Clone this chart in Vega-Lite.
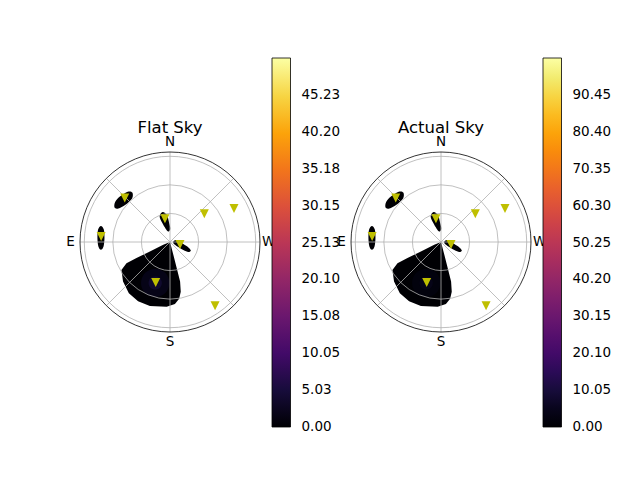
{
  "$schema": "https://vega.github.io/schema/vega-lite/v6.json",
  "background": "#fff",
  "padding": {"left": 66, "top": 58, "right": 5, "bottom": 5},
  "bounds": "flush",
  "spacing": 91,
  "datasets": {
    "blobs": [
      {"k": "apex", "b": "big", "v": 0, "i": 0, "x": 0, "y": 0},
      {"k": "apex", "b": "big", "v": 0, "i": 1, "x": 3.5, "y": -13.4},
      {"k": "apex", "b": "big", "v": 0, "i": 2, "x": 7.1, "y": -27.5},
      {"k": "apex", "b": "big", "v": 0, "i": 3, "x": 10.6, "y": -41.6},
      {"k": "apex", "b": "big", "v": 0, "i": 4, "x": 11.3, "y": -52.2},
      {"k": "apex", "b": "big", "v": 0, "i": 5, "x": 9.6, "y": -59.5},
      {"k": "apex", "b": "big", "v": 0, "i": 6, "x": 5.2, "y": -65.2},
      {"k": "apex", "b": "big", "v": 0, "i": 7, "x": -3.5, "y": -68},
      {"k": "apex", "b": "big", "v": 0, "i": 8, "x": -21.1, "y": -67.2},
      {"k": "apex", "b": "big", "v": 0, "i": 9, "x": -33.5, "y": -62.2},
      {"k": "apex", "b": "big", "v": 0, "i": 10, "x": -43.2, "y": -53.8},
      {"k": "apex", "b": "big", "v": 0, "i": 11, "x": -49.3, "y": -41.6},
      {"k": "apex", "b": "big", "v": 0, "i": 12, "x": -51, "y": -29.3},
      {"k": "apex", "b": "big", "v": 0, "i": 13, "x": -45.7, "y": -22.2},
      {"k": "apex", "b": "big", "v": 0, "i": 14, "x": -35.2, "y": -16.9},
      {"k": "apex", "b": "big", "v": 0, "i": 15, "x": -21.1, "y": -9.9},
      {"k": "apex", "b": "big", "v": 0, "i": 16, "x": -7.1, "y": -2.9},

      {"k": "oval", "b": "ne", "v": 0, "i": 0, "x": -44.4, "y": 52.8},
      {"k": "oval", "b": "ne", "v": 0, "i": 1, "x": -39.6, "y": 51.9},
      {"k": "oval", "b": "ne", "v": 0, "i": 2, "x": -39.8, "y": 45.8},
      {"k": "oval", "b": "ne", "v": 0, "i": 3, "x": -46.8, "y": 39.2},
      {"k": "oval", "b": "ne", "v": 0, "i": 4, "x": -54.2, "y": 35.2},
      {"k": "oval", "b": "ne", "v": 0, "i": 5, "x": -58.2, "y": 36.1},
      {"k": "oval", "b": "ne", "v": 0, "i": 6, "x": -57.6, "y": 42},
      {"k": "oval", "b": "ne", "v": 0, "i": 7, "x": -52.3, "y": 48},

      {"k": "oval", "b": "e", "v": 0, "i": 0, "x": -72.5, "y": 16.9},
      {"k": "oval", "b": "e", "v": 0, "i": 1, "x": -69.5, "y": 13},
      {"k": "oval", "b": "e", "v": 0, "i": 2, "x": -68.8, "y": 4.2},
      {"k": "oval", "b": "e", "v": 0, "i": 3, "x": -69.8, "y": -4.6},
      {"k": "oval", "b": "e", "v": 0, "i": 4, "x": -72.5, "y": -8.1},
      {"k": "oval", "b": "e", "v": 0, "i": 5, "x": -75.2, "y": -4.6},
      {"k": "oval", "b": "e", "v": 0, "i": 6, "x": -76.2, "y": 4.2},
      {"k": "oval", "b": "e", "v": 0, "i": 7, "x": -75.5, "y": 13},

      {"k": "oval", "b": "n", "v": 0, "i": 0, "x": -7.7, "y": 31.5},
      {"k": "oval", "b": "n", "v": 0, "i": 1, "x": -10.9, "y": 27},
      {"k": "oval", "b": "n", "v": 0, "i": 2, "x": -8.2, "y": 20.1},
      {"k": "oval", "b": "n", "v": 0, "i": 3, "x": -4.6, "y": 14},
      {"k": "oval", "b": "n", "v": 0, "i": 4, "x": -1.8, "y": 11},
      {"k": "oval", "b": "n", "v": 0, "i": 5, "x": 0.3, "y": 14},
      {"k": "oval", "b": "n", "v": 0, "i": 6, "x": -1.3, "y": 21.8},
      {"k": "oval", "b": "n", "v": 0, "i": 7, "x": -3.2, "y": 28.3},

      {"k": "oval", "b": "c", "v": 0, "i": 0, "x": 3.5, "y": 0.6},
      {"k": "oval", "b": "c", "v": 0, "i": 1, "x": 7.1, "y": 2.1},
      {"k": "oval", "b": "c", "v": 0, "i": 2, "x": 14, "y": -2.1},
      {"k": "oval", "b": "c", "v": 0, "i": 3, "x": 19.3, "y": -5.7},
      {"k": "oval", "b": "c", "v": 0, "i": 4, "x": 21.9, "y": -8.9},
      {"k": "oval", "b": "c", "v": 0, "i": 5, "x": 19.3, "y": -10.6},
      {"k": "oval", "b": "c", "v": 0, "i": 6, "x": 14, "y": -8.4},
      {"k": "oval", "b": "c", "v": 0, "i": 7, "x": 7.7, "y": -4.6},
      {"k": "oval", "b": "c", "v": 0, "i": 8, "x": 4.2, "y": -2.1},

      {"k": "glow", "b": "g1", "v": 2, "i": 0, "x": -0.5, "y": -43},
      {"k": "glow", "b": "g1", "v": 2, "i": 1, "x": -4.9, "y": -32.4},
      {"k": "glow", "b": "g1", "v": 2, "i": 2, "x": -15.5, "y": -28},
      {"k": "glow", "b": "g1", "v": 2, "i": 3, "x": -26.1, "y": -32.4},
      {"k": "glow", "b": "g1", "v": 2, "i": 4, "x": -30.5, "y": -43},
      {"k": "glow", "b": "g1", "v": 2, "i": 5, "x": -26.1, "y": -53.6},
      {"k": "glow", "b": "g1", "v": 2, "i": 6, "x": -15.5, "y": -58},
      {"k": "glow", "b": "g1", "v": 2, "i": 7, "x": -4.9, "y": -53.6},

      {"k": "glow", "b": "g2", "v": 4, "i": 0, "x": -8.5, "y": -43},
      {"k": "glow", "b": "g2", "v": 4, "i": 1, "x": -10.5, "y": -38},
      {"k": "glow", "b": "g2", "v": 4, "i": 2, "x": -15.5, "y": -36},
      {"k": "glow", "b": "g2", "v": 4, "i": 3, "x": -20.5, "y": -38},
      {"k": "glow", "b": "g2", "v": 4, "i": 4, "x": -22.5, "y": -43},
      {"k": "glow", "b": "g2", "v": 4, "i": 5, "x": -20.5, "y": -48},
      {"k": "glow", "b": "g2", "v": 4, "i": 6, "x": -15.5, "y": -50},
      {"k": "glow", "b": "g2", "v": 4, "i": 7, "x": -10.5, "y": -48}
    ],
    "spokes": [
      {"x": -94.5, "y": 0, "x2": 94.5, "y2": 0},
      {"x": 0, "y": -94.5, "x2": 0, "y2": 94.5},
      {"x": -66.82, "y": -66.82, "x2": 66.82, "y2": 66.82},
      {"x": -66.82, "y": 66.82, "x2": 66.82, "y2": -66.82}
    ],
    "rings": [
      {"r": 30, "x": 0, "y": 0},
      {"r": 60, "x": 0, "y": 0},
      {"r": 90, "x": 0, "y": 0},
      {"r": 94.5, "x": 0, "y": 0}
    ],
    "suns": [
      {"x": -47.5, "y": 46.2},
      {"x": -5.3, "y": 24.4},
      {"x": 36, "y": 29.7},
      {"x": 67.2, "y": 35.3},
      {"x": -72.3, "y": 5.9},
      {"x": 10.5, "y": -2.6},
      {"x": -15, "y": -42.4},
      {"x": 47.3, "y": -66.9}
    ],
    "dirs": [
      {"t": "N", "x": 0, "y": 104.5},
      {"t": "E", "x": -104.5, "y": 0},
      {"t": "S", "x": 0, "y": -104.5},
      {"t": "W", "x": 103.5, "y": 0}
    ]
  },
  "hconcat": [
    {
      "width": 180,
      "height": 180,
      "title": {"text": "Flat Sky", "frame": "group", "offset": -78},
      "encoding": {
        "x": {"field": "x", "type": "quantitative", "scale": {"domain": [-94.5, 94.5], "nice": false, "zero": false}, "axis": null},
        "y": {"field": "y", "type": "quantitative", "scale": {"domain": [-94.5, 94.5], "nice": false, "zero": false}, "axis": null}
      },
      "layer": [
        {
          "data": {"name": "blobs"},
          "transform": [{"filter": "datum.k == 'apex'"}],
          "mark": {"type": "line", "interpolate": "linear-closed", "strokeWidth": 0},
          "encoding": {
            "fill": {
              "field": "v", "type": "quantitative",
              "scale": {"domain": [0, 50.26], "scheme": "inferno"},
              "legend": {
                "orient": "none", "legendX": 192, "legendY": -94,
                "direction": "vertical", "title": null,
                "gradientLength": 369, "gradientThickness": 18.5,
                "labelOffset": 11,
                "values": [0, 5.03, 10.05, 15.08, 20.1, 25.13, 30.15, 35.18, 40.2, 45.23],
                "format": ".2f",
                "encode": {"labels": {"update": {"baseline": {"value": "middle"}}}}
              }
            },
            "order": {"field": "i"},
            "detail": {"field": "b"}
          }
        },
        {
          "data": {"name": "blobs"},
          "transform": [{"filter": "datum.k != 'apex'"}],
          "mark": {"type": "line", "interpolate": "cardinal-closed", "strokeWidth": 0},
          "encoding": {
            "fill": {"field": "v", "type": "quantitative"},
            "order": {"field": "i"},
            "detail": {"field": "b"}
          }
        },
        {
          "data": {"name": "spokes"},
          "mark": {"type": "rule", "color": "#b0b0b0", "strokeWidth": 0.8},
          "encoding": {"x2": {"field": "x2"}, "y2": {"field": "y2"}}
        },
        {
          "data": {"name": "rings"},
          "mark": {"type": "point", "shape": "circle", "filled": false, "opacity": 1, "strokeWidth": 0.8},
          "encoding": {
            "size": {"field": "r", "type": "quantitative", "scale": {"type": "pow", "exponent": 2, "domain": [0, 94.5], "range": [0, 32400]}, "legend": null},
            "stroke": {"condition": {"test": "datum.r > 91", "value": "#000000"}, "value": "#b0b0b0"}
          }
        },
        {
          "data": {"name": "suns"},
          "mark": {"type": "point", "shape": "M-1,-1L1,-1L0,1Z", "filled": true, "opacity": 1, "color": "#bfbf00", "size": 81}
        },
        {
          "data": {"name": "dirs"},
          "mark": {"type": "text", "align": "center", "baseline": "middle"},
          "encoding": {"text": {"field": "t"}}
        }
      ]
    },
    {
      "width": 180,
      "height": 180,
      "title": {"text": "Actual Sky", "frame": "group", "offset": -78},
      "encoding": {
        "x": {"field": "x", "type": "quantitative", "scale": {"domain": [-94.5, 94.5], "nice": false, "zero": false}, "axis": null},
        "y": {"field": "y", "type": "quantitative", "scale": {"domain": [-94.5, 94.5], "nice": false, "zero": false}, "axis": null}
      },
      "layer": [
        {
          "data": {"name": "blobs"},
          "transform": [{"filter": "datum.k == 'apex'"}],
          "mark": {"type": "line", "interpolate": "linear-closed", "strokeWidth": 0},
          "encoding": {
            "fill": {
              "field": "v", "type": "quantitative",
              "scale": {"domain": [0, 100.5], "scheme": "inferno"},
              "legend": {
                "orient": "none", "legendX": 192, "legendY": -94,
                "direction": "vertical", "title": null,
                "gradientLength": 369, "gradientThickness": 18.5,
                "labelOffset": 11,
                "values": [0, 10.05, 20.1, 30.15, 40.2, 50.25, 60.3, 70.35, 80.4, 90.45],
                "format": ".2f",
                "encode": {"labels": {"update": {"baseline": {"value": "middle"}}}}
              }
            },
            "order": {"field": "i"},
            "detail": {"field": "b"}
          }
        },
        {
          "data": {"name": "blobs"},
          "transform": [{"filter": "datum.k != 'apex'"}],
          "mark": {"type": "line", "interpolate": "cardinal-closed", "strokeWidth": 0},
          "encoding": {
            "fill": {"field": "v", "type": "quantitative"},
            "order": {"field": "i"},
            "detail": {"field": "b"}
          }
        },
        {
          "data": {"name": "spokes"},
          "mark": {"type": "rule", "color": "#b0b0b0", "strokeWidth": 0.8},
          "encoding": {"x2": {"field": "x2"}, "y2": {"field": "y2"}}
        },
        {
          "data": {"name": "rings"},
          "mark": {"type": "point", "shape": "circle", "filled": false, "opacity": 1, "strokeWidth": 0.8},
          "encoding": {
            "size": {"field": "r", "type": "quantitative", "scale": {"type": "pow", "exponent": 2, "domain": [0, 94.5], "range": [0, 32400]}, "legend": null},
            "stroke": {"condition": {"test": "datum.r > 91", "value": "#000000"}, "value": "#b0b0b0"}
          }
        },
        {
          "data": {"name": "suns"},
          "mark": {"type": "point", "shape": "M-1,-1L1,-1L0,1Z", "filled": true, "opacity": 1, "color": "#bfbf00", "size": 81}
        },
        {
          "data": {"name": "dirs"},
          "mark": {"type": "text", "align": "center", "baseline": "middle"},
          "encoding": {"text": {"field": "t"}}
        }
      ]
    }
  ],
  "resolve": {
    "scale": {"fill": "independent", "size": "independent"},
    "legend": {"fill": "independent"}
  },
  "config": {
    "view": {"stroke": null},
    "font": "DejaVu Sans",
    "title": {"font": "DejaVu Sans", "fontSize": 16.5, "fontWeight": "normal", "color": "#000000", "anchor": "middle"},
    "text": {"font": "DejaVu Sans", "fontSize": 13.5, "color": "#000000"},
    "legend": {
      "padding": 0,
      "labelFont": "DejaVu Sans",
      "labelFontSize": 13.5,
      "labelColor": "#000000",
      "labelOverlap": false,
      "gradientStrokeColor": "#000000",
      "gradientStrokeWidth": 0.8
    }
  }
}
